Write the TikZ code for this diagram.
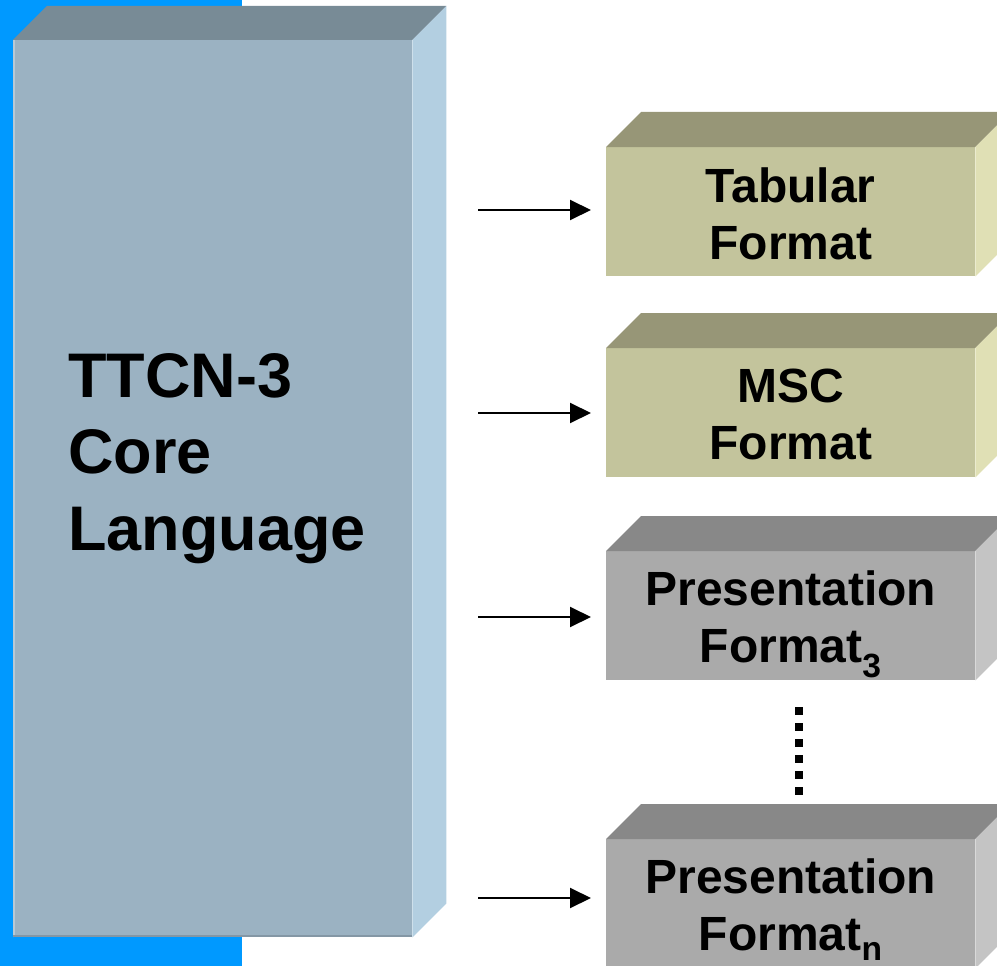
\documentclass[tikz,border=0pt]{standalone}
\usepackage{fontspec}
\setmainfont{Liberation Sans}
\usetikzlibrary{arrows.meta}
\definecolor{bgblue}{HTML}{0099FF}
\definecolor{coreF}{HTML}{9BB2C2}
\definecolor{coreT}{HTML}{788B96}
\definecolor{coreR}{HTML}{B3CFE1}
\definecolor{olvF}{HTML}{C3C49C}
\definecolor{olvT}{HTML}{979677}
\definecolor{olvR}{HTML}{E0E0B5}
\definecolor{gryF}{HTML}{AAAAAA}
\definecolor{gryT}{HTML}{888888}
\definecolor{gryR}{HTML}{C4C4C4}
\tikzset{
  fmtbox/.style={anchor=north west, inner sep=0pt, minimum width=369pt, minimum height=129pt},
  fmttext/.style={anchor=north, inner sep=0pt, align=center, font=\fontsize{48}{57}\selectfont\bfseries},
  arr/.style={line width=2pt, -{Triangle[length=21pt,width=20pt]}, shorten >=15pt},
  dotsline/.style={line width=8pt, dash pattern=on 8pt off 8pt},
}
\newcommand{\topright}[4]{% node, top colour, right colour, depth
  \fill[#2] (#1.north west) -- ++(#4,-#4) -- ([shift={(#4,-#4)}]#1.north east) -- (#1.north east) -- cycle;
  \fill[#3] (#1.north east) -- ++(#4,-#4) -- ([shift={(#4,-#4)}]#1.south east) -- (#1.south east) -- cycle;
}
\begin{document}
\begin{tikzpicture}[x=1pt,y=-1pt]
\useasboundingbox (0,0) rectangle (997,966);
\clip (0,0) rectangle (997,966);
\fill[bgblue] (0,0) rectangle (242,966);
% core language box
\node[inner sep=0pt, anchor=north west, fill=coreF, minimum width=399pt, minimum height=897pt] (core) at (13,40) {};
\topright{core}{coreT}{coreR}{34}
\draw[coreF!70!white, line width=2pt] ([xshift=1pt]core.south west) -- ([xshift=1pt]core.north west);
\draw[coreF!85!black, line width=2pt] ([yshift=1pt]core.south west) -- ([yshift=1pt]core.south east);
\node[anchor=north west, inner sep=0pt, align=left, font=\fontsize{63}{76.5}\selectfont\bfseries] (coretxt) at (68,353) {TTCN-3\\Core\\Language};
% format boxes
\node[fmtbox, fill=olvF] (tab) at (606,147) {};
\topright{tab}{olvT}{olvR}{35}
\node[fmttext] (tabtxt) at ([yshift=-21pt]tab.north) {Tabular\\Format};
\node[fmtbox, fill=olvF] (msc) at (606,348) {};
\topright{msc}{olvT}{olvR}{35}
\node[fmttext] (msctxt) at ([yshift=-21pt]msc.north) {MSC\\Format};
\node[fmtbox, fill=gryF] (p3) at (606,551) {};
\topright{p3}{gryT}{gryR}{35}
\node[fmttext] (p3txt) at ([yshift=-20pt]p3.north) {Presentation\\Format\textsubscript{3}};
\node[fmtbox, fill=gryF] (pn) at (606,839) {};
\topright{pn}{gryT}{gryR}{35}
\node[fmttext] (pntxt) at ([yshift=-20pt]pn.north) {Presentation\\Format\textsubscript{n}};
% arrows
\coordinate (s1) at (478,210);
\coordinate (s2) at (478,413);
\coordinate (s3) at (478,617);
\coordinate (s4) at (478,898);
\draw[arr] (s1) -- (s1 -| tab.west);
\draw[arr] (s2) -- (s2 -| msc.west);
\draw[arr] (s3) -- (s3 -| p3.west);
\draw[arr] (s4) -- (s4 -| pn.west);
% ellipsis
\coordinate (d1) at (799,707);
\coordinate (d2) at (799,795);
\draw[dotsline] (d1) -- (d2);
\end{tikzpicture}
\end{document}
